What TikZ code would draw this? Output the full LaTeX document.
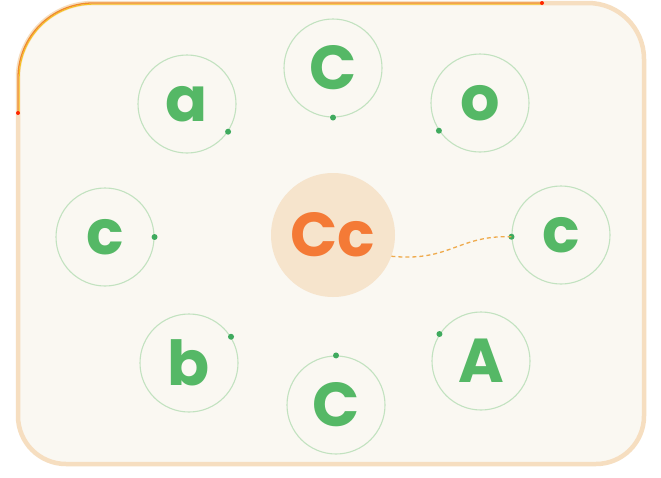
\documentclass[tikz,border=0pt]{standalone}
\usepackage{fontspec}
\setmainfont{Poppins}
\definecolor{paper}{HTML}{FAF8F2}
\definecolor{framecol}{HTML}{F6DEC0}
\definecolor{hilite}{HTML}{F08A2C}
\definecolor{ring}{HTML}{C2E2C0}
\definecolor{dotgreen}{HTML}{3FAA5E}
\definecolor{letter}{HTML}{55B866}
\definecolor{peach}{HTML}{F6E4CC}
\definecolor{orangeL}{HTML}{F47A36}
\definecolor{yellowL}{HTML}{F6C51E}
\definecolor{dashcol}{HTML}{EFAA4C}
\tikzset{
  letterring/.style={circle, draw=ring, line width=1.1pt, minimum size=98pt, inner sep=0pt,
    font=\fontsize{62}{62}\selectfont\bfseries, text=letter},
  dotmark/.style={fill=dotgreen},
}
\begin{document}
\begin{tikzpicture}[x=1pt,y=-1pt]
\useasboundingbox (0,0) rectangle (661,477);
\fill[white] (0,0) rectangle (661,477);
% frame
\draw[framecol, fill=paper, line width=4.5pt]
  (18,78) arc[start angle=180, end angle=270, radius=75] -- (588,3)
  arc[start angle=270, end angle=360, radius=56] -- (644,416)
  arc[start angle=0, end angle=90, radius=48] -- (66,464)
  arc[start angle=90, end angle=180, radius=48] -- cycle;
% highlighted part of frame
\draw[yellowL, line width=1pt] (19.2,113) -- (19.2,78) arc[start angle=180, end angle=270, radius=73.8] -- (542,4.2);
\draw[hilite, line width=1.3pt] (18,113) -- (18,78) arc[start angle=180, end angle=270, radius=75] -- (542,3);
\fill[red!70!orange] (18,113) circle (2pt);
\fill[red!70!orange] (542,3) circle (2pt);
% central node
\node[circle, fill=peach, minimum size=124pt, inner sep=0pt] (cc) at (333,235) {};
\node[font=\fontsize{62}{62}\selectfont\bfseries, text=orangeL] (cct) at (333,235) {Cc};
% rings
\node[letterring] (a) at (187,104) {a};
\node[letterring] (ctop) at (333,68) {C};
\node[letterring] (o) at (480,103) {o};
\node[letterring] (cl) at (105,237) {c};
\node[letterring] (cr) at (561,235) {c};
\node[letterring] (b) at (189,363) {b};
\node[letterring] (cbot) at (336,405) {C};
\node[letterring] (A) at (481,361) {A};
% dots on rings
\coordinate (da) at (a.-34);
\coordinate (dctop) at (ctop.-90);
\coordinate (do) at (o.214);
\coordinate (dcl) at (cl.0);
\coordinate (dcr) at (cr.182);
\coordinate (db) at (b.32);
\coordinate (dcbot) at (cbot.90);
\coordinate (dA) at (A.147);
\foreach \d in {da,dctop,do,dcl,dcr,db,dcbot,dA} \fill[dotmark] (\d) circle (3pt);
% dashed connector
\coordinate (s) at (cc.-20);
\draw[dashcol, line width=1.3pt, dash pattern=on 4pt off 3pt] (s) .. controls (450,262) and (458,235) .. (dcr);
\end{tikzpicture}
\end{document}
